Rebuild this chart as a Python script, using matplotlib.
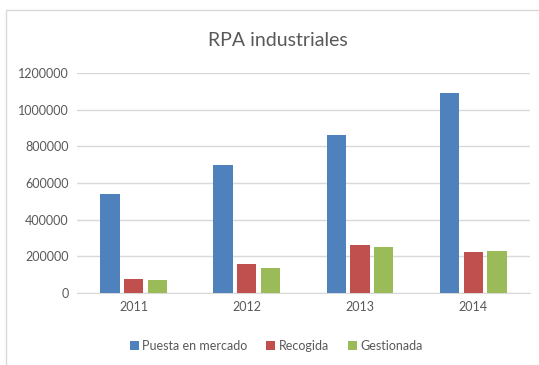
"""
RPA industriales: puesta en mercado, recogida y gestionada por año
"""

import numpy as np
import matplotlib.pyplot as plt
from matplotlib.patches import Rectangle

years = ["2011", "2012", "2013", "2014"]
puesta = [541000, 700000, 860000, 1090000]
recogida = [76000, 160000, 263000, 224000]
gestionada = [71000, 138000, 254000, 232000]

series = [
  ("Puesta en mercado", puesta, "#4F81BD"),
  ("Recogida", recogida, "#C0504D"),
  ("Gestionada", gestionada, "#9BBB59"),
]

plt.rcParams['font.family'] = ['Lato', 'DejaVu Sans']
text_col = "#595959"

fig = plt.figure(figsize=(5.39, 3.65), dpi=100)
ax = fig.add_axes([0.143, 0.197, 0.84, 0.603])

# faint frame around the chart area
fig.patches.append(Rectangle((0.011, -0.05), 1.2, 1.022, transform=fig.transFigure,
                             fill=False, edgecolor="#D9D9D9", linewidth=1.0))

x = np.arange(len(years))
width = 0.17
offsets = [-0.21, 0.0, 0.21]
for (name, vals, col), off in zip(series, offsets):
  ax.bar(x + off, vals, width, color=col, label=name, zorder=3)

ax.set_xlim(-0.5, len(years) - 0.5)
ax.set_ylim(0, 1200000)
ax.set_yticks(np.arange(0, 1200001, 200000))
ax.set_yticklabels([str(v) for v in range(0, 1200001, 200000)])
ax.set_xticks(x)
ax.set_xticklabels(years)
ax.yaxis.grid(True, color="#D9D9D9", linewidth=1.0, zorder=0)
ax.tick_params(axis="both", length=0, labelsize=9, colors=text_col, pad=6)
for s in ["top", "right", "left"]:
  ax.spines[s].set_visible(False)
ax.spines["bottom"].set_color("#D9D9D9")

fig.text(0.515, 0.89, "RPA industriales", ha="center", va="center",
         fontsize=14, color=text_col)

leg = ax.legend(loc="center", bbox_to_anchor=(0.44, -0.24), ncol=3, frameon=False,
                fontsize=9, handlelength=0.7, handleheight=0.7, handletextpad=0.3,
                columnspacing=1.5)
for t in leg.get_texts():
  t.set_color(text_col)

plt.savefig("out.png", dpi=100)
